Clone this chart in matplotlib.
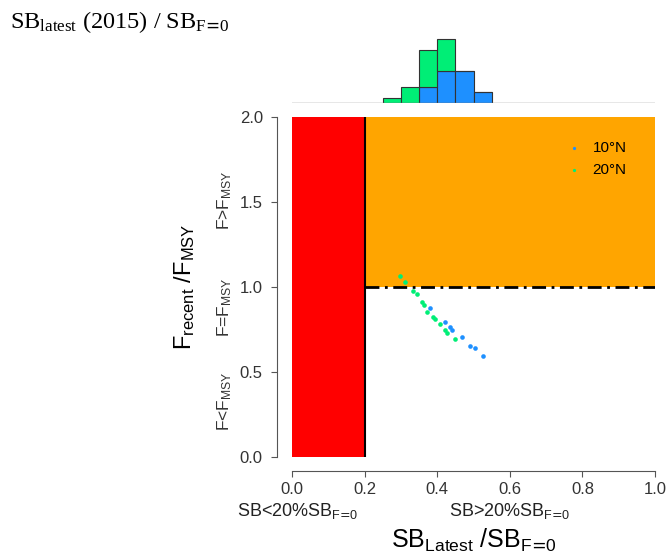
import matplotlib
matplotlib.use("Agg")
import matplotlib.pyplot as plt
import numpy as np

plt.rcParams['font.family'] = ['Liberation Sans', 'DejaVu Sans']

# stock status points (SB/SB_F=0, F/F_MSY)
sb_10N = [0.380, 0.421, 0.435, 0.440, 0.467, 0.490, 0.504, 0.527]
f_10N = [0.878, 0.796, 0.766, 0.747, 0.704, 0.653, 0.639, 0.594]
sb_20N = [0.298, 0.311, 0.334, 0.345, 0.357, 0.364, 0.371, 0.389, 0.394,
          0.408, 0.421, 0.426, 0.449]
f_20N = [1.066, 1.031, 0.976, 0.961, 0.912, 0.894, 0.855, 0.825, 0.810,
         0.782, 0.747, 0.731, 0.692]

# histogram of SB_latest/SB_F=0 (stacked counts)
bin_left = [0.25, 0.30, 0.35, 0.40, 0.45, 0.50]
hist_10N = [0, 0, 3, 6, 6, 2]
hist_20N = [1, 3, 7, 6, 0, 0]

blue = '#1E90FF'
green = '#00EE76'

fig = plt.figure(figsize=(6.68, 5.56), dpi=100)

ax = fig.add_axes([292/668, 1-457/556, 363/668, 340/556])
ax.axvspan(0, 0.2, ymin=0, ymax=1, color='#FF0000', lw=0)
ax.fill_between([0.2, 1.0], 1, 2, color='#FFA500', lw=0)
ax.plot([0.2, 0.2], [0, 2], color='black', lw=1.5)
ax.plot([0.2, 1.0], [1, 1], color='black', lw=2, linestyle=(0, (5, 2, 1, 2)))
ax.scatter(sb_10N, f_10N, s=11, color=blue, zorder=3, label='10°N', lw=0)
ax.scatter(sb_20N, f_20N, s=11, color=green, zorder=3, label='20°N', lw=0)
ax.set_xlim(0, 1)
ax.set_ylim(0, 2)
for s in ['top', 'right']:
    ax.spines[s].set_visible(False)
ax.spines['left'].set_position(('outward', 11))
ax.spines['bottom'].set_position(('outward', 10))
ax.spines['left'].set_color('#555555')
ax.spines['bottom'].set_color('#555555')
ax.set_xticks([0, 0.2, 0.4, 0.6, 0.8, 1.0])
ax.set_yticks([0, 0.5, 1.0, 1.5, 2.0])
ax.set_xticklabels(['0.0', '0.2', '0.4', '0.6', '0.8', '1.0'])
ax.set_yticklabels(['0.0', '0.5', '1.0', '1.5', '2.0'])
ax.tick_params(length=4, color='#555555', labelcolor='#333333', labelsize=12)
ax.tick_params(axis='x', pad=4)
ax.tick_params(axis='y', pad=6)

ax.text(-0.185, 0.33, r'F<$\mathregular{F_{MSY}}$', rotation=90, ha='center',
        va='center', fontsize=12.5, color='#333333', clip_on=False)
ax.text(-0.185, 0.88, r'F=$\mathregular{F_{MSY}}$', rotation=90, ha='center',
        va='center', fontsize=12.5, color='#333333', clip_on=False)
ax.text(-0.185, 1.51, r'F>$\mathregular{F_{MSY}}$', rotation=90, ha='center',
        va='center', fontsize=12.5, color='#333333', clip_on=False)
ax.text(-0.295, 1.0, r'$\mathregular{F_{recent}}$ /$\mathregular{F_{MSY}}$',
        rotation=90, ha='center', va='center', fontsize=17, clip_on=False)

ax.text(0.015, -0.32, r'SB<20%$\mathregular{SB_{F\text{=}0}}$', ha='center',
        va='center', fontsize=13, color='#222222', clip_on=False)
ax.text(0.6, -0.32, r'SB>20%$\mathregular{SB_{F\text{=}0}}$', ha='center',
        va='center', fontsize=13, color='#222222', clip_on=False)
ax.text(0.5, -0.49, r'$\mathregular{SB_{Latest}}$ /$\mathregular{SB_{F\text{=}0}}$',
        ha='center', va='center', fontsize=18, clip_on=False)

ax.legend(loc='upper right', frameon=False, fontsize=11, markerscale=0.7,
          handletextpad=0.2, bbox_to_anchor=(0.96, 0.97))

# histogram on top
axh = fig.add_axes([292/668, 1-103/556, 363/668, 68/556])
axh.bar(bin_left, hist_10N, width=0.05, align='edge', color=blue,
        edgecolor='#333333', lw=0.8)
axh.bar(bin_left, hist_20N, width=0.05, bottom=hist_10N, align='edge',
        color=green, edgecolor='#333333', lw=0.8)
axh.axhline(0, color='#888888', lw=1)
axh.set_xlim(0, 1)
axh.set_ylim(0, 12.75)
axh.axis('off')

fig.text(10/668, 1-22/556,
         r'$\mathregular{SB_{latest}}$ (2015) / $\mathregular{SB_{F\text{=}0}}$',
         fontsize=17.5, family='Liberation Serif', va='center')

fig.savefig('out.png', dpi=100)
